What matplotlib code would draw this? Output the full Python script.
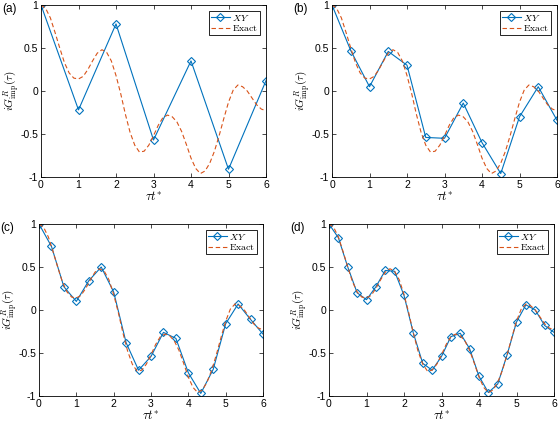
import numpy as np
import matplotlib
matplotlib.use("Agg")
import matplotlib.pyplot as plt

plt.rcParams['font.family'] = ['Liberation Sans', 'DejaVu Sans']
plt.rcParams['mathtext.fontset'] = 'cm'

# exact curve, every 0.125
t_exact = np.arange(49) * 0.125
g_exact = [1.00, 0.96, 0.85, 0.68, 0.50, 0.33, 0.21, 0.15, 0.14, 0.17,
           0.25, 0.35, 0.44, 0.48, 0.45, 0.35, 0.18, -0.03, -0.27, -0.48,
           -0.63, -0.71, -0.70, -0.63, -0.52, -0.40, -0.31, -0.28, -0.30, -0.36,
           -0.47, -0.62, -0.78, -0.90, -0.96, -0.93, -0.84, -0.70, -0.52, -0.32,
           -0.13, 0.01, 0.07, 0.05, 0.00, -0.08, -0.16, -0.21, -0.23]

# XY results for the four time steps
t_a = [0, 1, 2, 3, 4, 5, 6]
g_a = [1.0, -0.22, 0.78, -0.57, 0.35, -0.91, 0.12]

t_b = np.arange(13) * 0.5
g_b = [1.0, 0.47, 0.05, 0.46, 0.30, -0.54, -0.55, -0.14, -0.60, -0.96, -0.30, 0.05, -0.34]

t_c = np.arange(19) / 3
g_c = [1.0, 0.74, 0.27, 0.10, 0.34, 0.50, 0.21, -0.38, -0.70, -0.54,
       -0.26, -0.33, -0.73, -0.97, -0.69, -0.16, 0.07, -0.11, -0.28]

t_d = np.arange(25) * 0.25
g_d = [1.0, 0.84, 0.50, 0.20, 0.12, 0.27, 0.46, 0.45, 0.17, -0.27,
       -0.62, -0.70, -0.54, -0.31, -0.27, -0.45, -0.77, -0.96, -0.86, -0.52,
       -0.14, 0.06, 0.00, -0.18, -0.26]

blue = '#0072BD'
orange = '#D95319'

fig = plt.figure(figsize=(5.6, 4.22), dpi=100)
W, H = 560, 422
# axes boxes in pixels: left, top, right, bottom
boxes = [(41, 5, 266, 177), (332, 5, 557, 177),
         (39, 224, 263, 396), (329, 224, 554, 396)]
panels = [(t_a, g_a, '(a)'), (t_b, g_b, '(b)'), (t_c, g_c, '(c)'), (t_d, g_d, '(d)')]

for (l, t, r, b), (tx, gx, lab) in zip(boxes, panels):
    ax = fig.add_axes([l / W, 1 - b / H, (r - l) / W, (b - t) / H])
    ax.plot(tx, gx, '-', color=blue, lw=0.8, marker='D', ms=4.5,
            mfc='none', mec=blue, mew=0.8, label=r'$XY$')
    ax.plot(t_exact, g_exact, '--', color=orange, lw=0.8, dashes=(4, 2.5),
            label=r'$\mathrm{Exact}$')
    ax.set_xlim(0, 6)
    ax.set_ylim(-1, 1)
    ax.set_xticks(range(7))
    ax.set_yticks([-1, -0.5, 0, 0.5, 1])
    ax.set_yticklabels(['-1', '-0.5', '0', '0.5', '1'])
    ax.tick_params(direction='in', top=True, right=True, labelsize=7.5,
                   length=3, width=0.5, pad=2)
    for s in ax.spines.values():
        s.set_linewidth(0.6)
    ax.set_xlabel(r'$\tau t^{*}$', fontsize=9, labelpad=0)
    ax.set_ylabel(r'$iG^{R}_{\mathrm{imp}}(\tau)$', fontsize=8)
    ax.yaxis.set_label_coords(-19 / (r - l), 0.5)
    leg = ax.legend(loc='upper right', fontsize=7, handlelength=2.0,
                    borderpad=0.2, labelspacing=0.05, handletextpad=0.2,
                    borderaxespad=0.6, fancybox=False, framealpha=1)
    leg.get_frame().set_edgecolor('black')
    leg.get_frame().set_linewidth(0.6)
    fig.text((l - 39) / W, 1 - (t + 4) / H, lab, fontsize=8.5, va='center', ha='left')

fig.savefig('out.png', dpi=100)
